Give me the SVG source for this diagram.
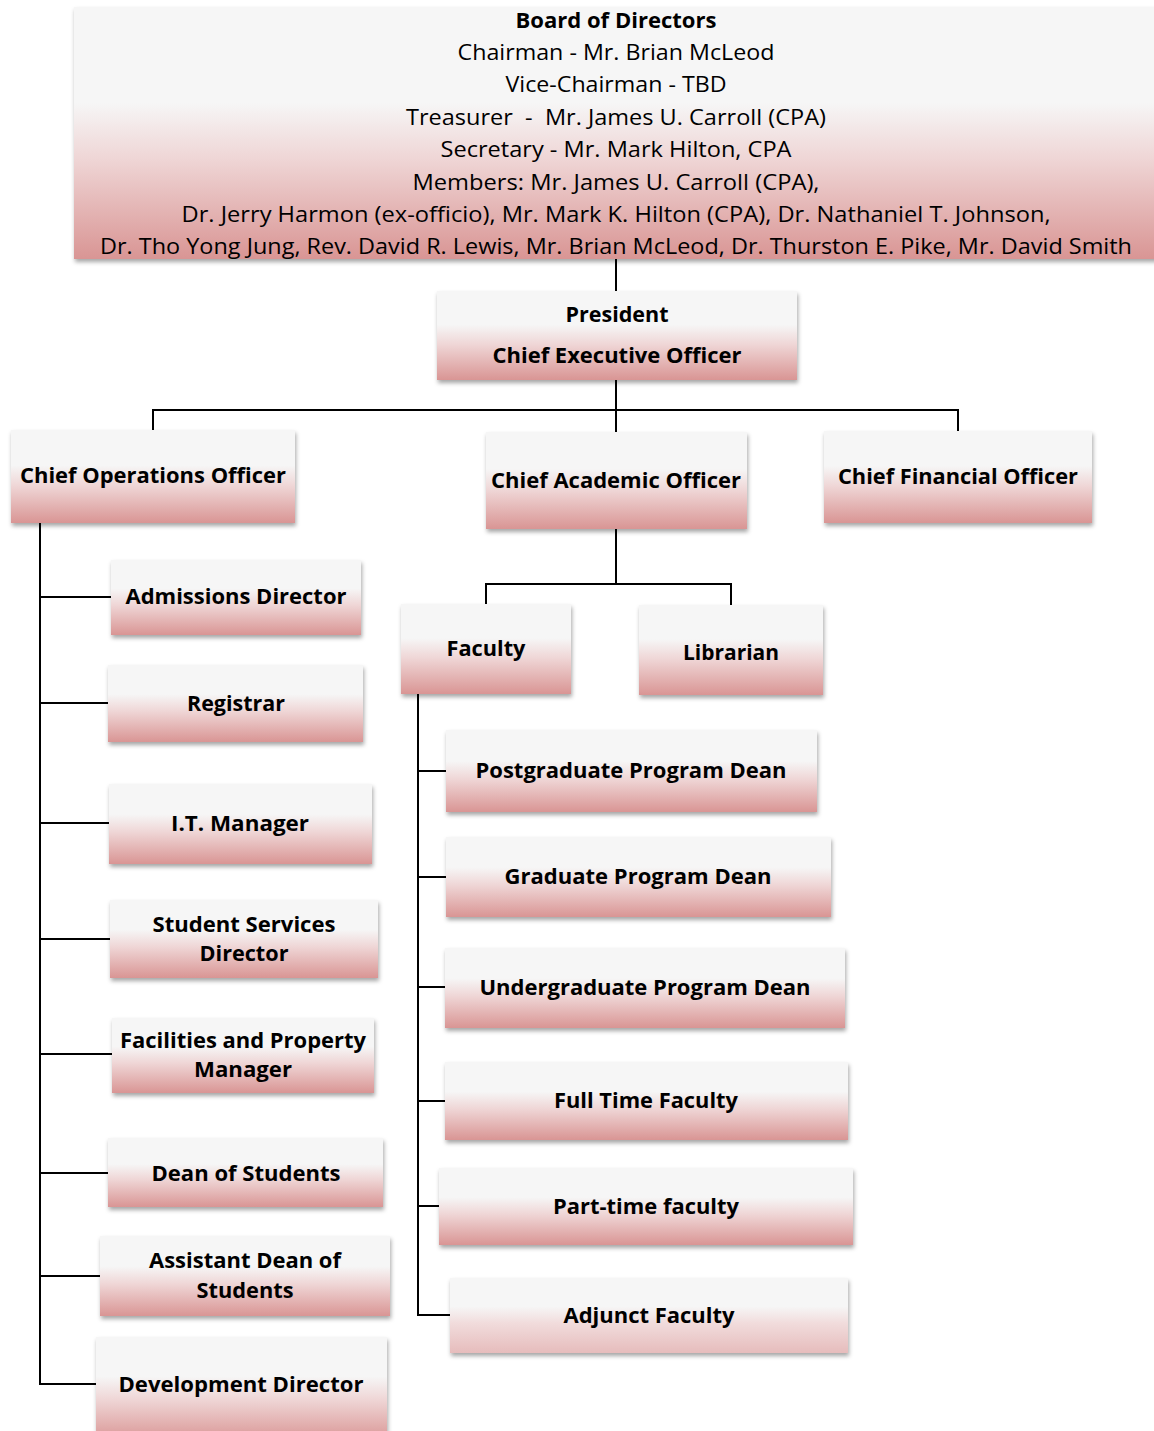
<svg xmlns="http://www.w3.org/2000/svg" width="1154" height="1431" viewBox="0 0 1154 1431">
<defs>
<linearGradient id="g" x1="0" y1="0" x2="0" y2="1">
<stop offset="0" stop-color="#f6f6f6"/>
<stop offset="0.38" stop-color="#f6f6f6"/>
<stop offset="0.6" stop-color="#efd6d6"/>
<stop offset="1" stop-color="#d99594"/>
</linearGradient>
<linearGradient id="gl" x1="0" y1="0" x2="0" y2="1">
<stop offset="0" stop-color="#f6f6f6"/>
<stop offset="0.38" stop-color="#f6f6f6"/>
<stop offset="0.6" stop-color="#f1dcdc"/>
<stop offset="1" stop-color="#e6bcbc"/>
</linearGradient>
<filter id="sh" x="-5%" y="-10%" width="110%" height="130%">
<feDropShadow dx="1" dy="3" stdDeviation="2" flood-color="#000" flood-opacity="0.35"/>
</filter>
</defs>
<style>
.box{fill:url(#g);filter:url(#sh)}
.boxl{fill:url(#gl);filter:url(#sh)}
.t{font-family:"Open Sans","Noto Sans","Liberation Sans",sans-serif;font-weight:bold;font-size:22px;fill:#000;text-anchor:middle}
.r{font-family:"Open Sans","Noto Sans","Liberation Sans",sans-serif;font-size:21px;fill:#000;text-anchor:middle}
.c{fill:none;stroke:#000;stroke-width:2}
</style>

<g id="connectors">
<path class="c" d="M616 259V291"/>
<path class="c" d="M616 380V432"/>
<path class="c" d="M153 430V410H958V431"/>
<path class="c" d="M616 529V584"/>
<path class="c" d="M486 604V584H731V605"/>
<path class="c" d="M40 523V1384H96"/>
<path class="c" d="M40 597H111M40 703H108M40 823H109M40 939H110M40 1054H112M40 1173H108M40 1276H100"/>
<path class="c" d="M418 694V1315H450"/>
<path class="c" d="M418 771H446M418 877H446M418 987H445M418 1101H445M418 1206H439"/>
</g>

<g id="board">
<rect class="box" x="74" y="7" width="1090" height="252"/>
<text class="t" x="616" y="28" textLength="201" lengthAdjust="spacingAndGlyphs">Board of Directors</text>
<text class="r" x="616" y="60" textLength="317" lengthAdjust="spacingAndGlyphs">Chairman - Mr. Brian McLeod</text>
<text class="r" x="616" y="92" textLength="221" lengthAdjust="spacingAndGlyphs">Vice-Chairman - TBD</text>
<text class="r" x="616" y="125" textLength="420" lengthAdjust="spacingAndGlyphs" xml:space="preserve">Treasurer  -  Mr. James U. Carroll (CPA)</text>
<text class="r" x="616" y="157" textLength="351" lengthAdjust="spacingAndGlyphs">Secretary - Mr. Mark Hilton, CPA</text>
<text class="r" x="616" y="190" textLength="407" lengthAdjust="spacingAndGlyphs">Members: Mr. James U. Carroll (CPA),</text>
<text class="r" x="616" y="222" textLength="869" lengthAdjust="spacingAndGlyphs">Dr. Jerry Harmon (ex-officio), Mr. Mark K. Hilton (CPA), Dr. Nathaniel T. Johnson,</text>
<text class="r" x="616" y="254" textLength="1032" lengthAdjust="spacingAndGlyphs">Dr. Tho Yong Jung, Rev. David R. Lewis, Mr. Brian McLeod, Dr. Thurston E. Pike, Mr. David Smith</text>
</g>

<g id="president">
<rect class="box" x="437" y="291" width="360" height="89"/>
<text class="t" x="617" y="322" textLength="103" lengthAdjust="spacingAndGlyphs">President</text>
<text class="t" x="617" y="363" textLength="249" lengthAdjust="spacingAndGlyphs">Chief Executive Officer</text>
</g>

<g id="coo">
<rect class="box" x="11" y="430" width="284" height="93"/>
<text class="t" x="153" y="483" textLength="266" lengthAdjust="spacingAndGlyphs">Chief Operations Officer</text>
</g>

<g id="cao">
<rect class="box" x="486" y="432" width="261" height="97"/>
<text class="t" x="616" y="488" textLength="250" lengthAdjust="spacingAndGlyphs">Chief Academic Officer</text>
</g>

<g id="cfo">
<rect class="box" x="824" y="431" width="268" height="92"/>
<text class="t" x="958" y="484" textLength="240" lengthAdjust="spacingAndGlyphs">Chief Financial Officer</text>
</g>

<g id="faculty">
<rect class="box" x="401" y="604" width="170" height="90"/>
<text class="t" x="486" y="656" textLength="79" lengthAdjust="spacingAndGlyphs">Faculty</text>
</g>

<g id="librarian">
<rect class="box" x="639" y="605" width="184" height="90"/>
<text class="t" x="731" y="660" textLength="96" lengthAdjust="spacingAndGlyphs">Librarian</text>
</g>

<g id="admissions">
<rect class="box" x="111" y="560" width="250" height="75"/>
<text class="t" x="236" y="604" textLength="221" lengthAdjust="spacingAndGlyphs">Admissions Director</text>
</g>

<g id="registrar">
<rect class="box" x="108" y="665" width="255" height="77"/>
<text class="t" x="236" y="711" textLength="98" lengthAdjust="spacingAndGlyphs">Registrar</text>
</g>

<g id="it">
<rect class="box" x="109" y="784" width="263" height="80"/>
<text class="t" x="240" y="831" textLength="138" lengthAdjust="spacingAndGlyphs">I.T. Manager</text>
</g>

<g id="studentservices">
<rect class="box" x="110" y="900" width="268" height="78"/>
<text class="t" x="244" y="932" textLength="183" lengthAdjust="spacingAndGlyphs">Student Services</text>
<text class="t" x="244" y="961" textLength="89" lengthAdjust="spacingAndGlyphs">Director</text>
</g>

<g id="facilities">
<rect class="box" x="112" y="1018" width="262" height="75"/>
<text class="t" x="243" y="1048" textLength="246" lengthAdjust="spacingAndGlyphs">Facilities and Property</text>
<text class="t" x="243" y="1077" textLength="98" lengthAdjust="spacingAndGlyphs">Manager</text>
</g>

<g id="deanstudents">
<rect class="box" x="108" y="1138" width="275" height="69"/>
<text class="t" x="246" y="1181" textLength="189" lengthAdjust="spacingAndGlyphs">Dean of Students</text>
</g>

<g id="assistantdean">
<rect class="box" x="100" y="1236" width="290" height="80"/>
<text class="t" x="245" y="1268" textLength="192" lengthAdjust="spacingAndGlyphs">Assistant Dean of</text>
<text class="t" x="245" y="1298" textLength="97" lengthAdjust="spacingAndGlyphs">Students</text>
</g>

<g id="development">
<rect class="box" x="96" y="1337" width="291" height="104"/>
<text class="t" x="241" y="1392" textLength="245" lengthAdjust="spacingAndGlyphs">Development Director</text>
</g>

<g id="postgrad">
<rect class="box" x="446" y="730" width="371" height="82"/>
<text class="t" x="631" y="778" textLength="311" lengthAdjust="spacingAndGlyphs">Postgraduate Program Dean</text>
</g>

<g id="grad">
<rect class="box" x="446" y="837" width="385" height="80"/>
<text class="t" x="638" y="884" textLength="267" lengthAdjust="spacingAndGlyphs">Graduate Program Dean</text>
</g>

<g id="undergrad">
<rect class="box" x="445" y="948" width="400" height="80"/>
<text class="t" x="645" y="995" textLength="331" lengthAdjust="spacingAndGlyphs">Undergraduate Program Dean</text>
</g>

<g id="fulltime">
<rect class="box" x="445" y="1062" width="403" height="78"/>
<text class="t" x="646" y="1108" textLength="184" lengthAdjust="spacingAndGlyphs">Full Time Faculty</text>
</g>

<g id="parttime">
<rect class="box" x="439" y="1168" width="414" height="77"/>
<text class="t" x="646" y="1214" textLength="186" lengthAdjust="spacingAndGlyphs">Part-time faculty</text>
</g>

<g id="adjunct">
<rect class="boxl" x="450" y="1278" width="398" height="75"/>
<text class="t" x="649" y="1323" textLength="171" lengthAdjust="spacingAndGlyphs">Adjunct Faculty</text>
</g>
</svg>
